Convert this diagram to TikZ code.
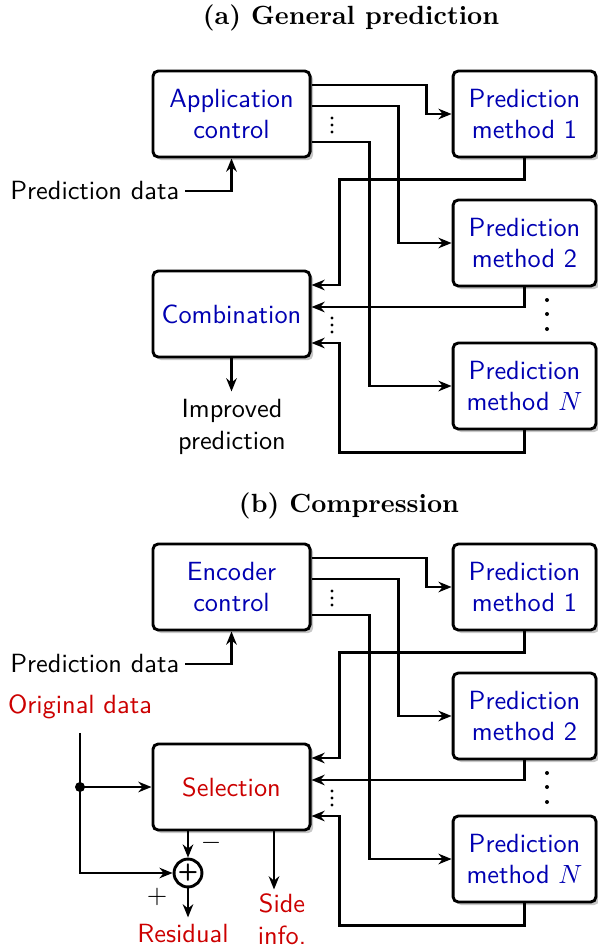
\documentclass[tikz,border=0pt]{standalone}
\usetikzlibrary{shadows,calc,arrows.meta}
\definecolor{nodeblue}{rgb}{0,0,0.7}
\definecolor{nodered}{rgb}{0.8,0,0}
\begin{document}
\begin{tikzpicture}[x=0.38pt,y=-0.38pt, font=\sffamily,
  box/.style={draw, line width=1.1pt, rounded corners=2pt, fill=white, align=center,
    minimum height=32.7pt, text=nodeblue, inner sep=2pt,
    drop shadow={shadow xshift=1.2pt, shadow yshift=-1.2pt, fill=black!22, opacity=1}},
  lbox/.style={box, minimum width=59.7pt},
  rbox/.style={box, minimum width=54.3pt},
  conn/.style={line width=0.95pt},
  arr/.style={conn, -{Stealth[length=5pt,width=4pt,inset=1.6pt]}},
  ttl/.style={font=\rmfamily\bfseries},
  lbl/.style={inner sep=2pt},
  dotmark/.style={fill=black}]
\useasboundingbox (0,0) rectangle (597,948);

% ---------- (a) ----------
\node[ttl] (ta) at (351,18) {(a) General prediction};
\node[lbox] (app) at (231.5,114) {Application\\control};
\node[rbox] (m1) at (524.5,114) {Prediction\\method 1};
\node[rbox] (m2) at (524.5,243) {Prediction\\method 2};
\node[rbox] (mN) at (524.5,386) {Prediction\\method $N$};
\node[lbox] (comb) at (231.5,314) {Combination};
\node[lbl, anchor=east] (pd) at (185,191) {Prediction data};
\node[lbl, align=center] (imp) at (232,427) {Improved\\prediction};

\draw[arr] (pd.east) -| (app.south);
\draw[arr] ($(app.east)+(0,-29)$) -- ++(115,0) |- (m1.west);
\draw[arr] ($(app.east)+(0,-8)$) -- ++(87,0) |- (m2.west);
\draw[arr] ($(app.east)+(0,28)$) -- ++(58,0) |- (mN.west);
\draw[arr] (m1.south) -- ++(0,21) -- ++(-185,0) |- ($(comb.east)+(0,-29)$);
\draw[arr] (m2.south) |- ($(comb.east)+(0,-7)$);
\draw[arr] (mN.south) -- ++(0,22) -- ++(-185,0) |- ($(comb.east)+(0,29)$);
\draw[arr] (comb.south) -- ++(0,33);

\foreach \yy in {118,125,132} \fill[dotmark] (332,\yy) circle (1.6);
\foreach \yy in {318,325,332} \fill[dotmark] (332,\yy) circle (1.6);
\foreach \yy in {300,314,329} \fill[dotmark] (547,\yy) circle (2);

% ---------- (b) ----------
\node[ttl] (tb) at (349,506) {(b) Compression};
\node[lbox] (enc) at (231.5,587) {Encoder\\control};
\node[rbox] (m1b) at (524.5,587) {Prediction\\method 1};
\node[rbox] (m2b) at (524.5,716) {Prediction\\method 2};
\node[rbox] (mNb) at (524.5,859) {Prediction\\method $N$};
\node[lbox, text=nodered] (sel) at (231.5,787) {Selection};
\node[lbl, anchor=east] (pdb) at (185,664) {Prediction data};
\node[lbl, text=nodered] (orig) at (80,707) {Original data};
\node[circle, draw, line width=1.1pt, minimum size=10.6pt, inner sep=0pt, fill=white] (plus) at (188,873) {\bfseries\small +};
\node[lbl] (minus) at (211,843) {$-$};
\node[lbl] (pl) at (157,897) {$+$};
\node[lbl, text=nodered] (res) at (183,934) {Residual};
\node[lbl, text=nodered, align=center] (side) at (282,919) {Side\\info.};

\draw[arr] (pdb.east) -| (enc.south);
\draw[arr] ($(enc.east)+(0,-29)$) -- ++(115,0) |- (m1b.west);
\draw[arr] ($(enc.east)+(0,-8)$) -- ++(87,0) |- (m2b.west);
\draw[arr] ($(enc.east)+(0,28)$) -- ++(58,0) |- (mNb.west);
\draw[arr] (m1b.south) -- ++(0,21) -- ++(-185,0) |- ($(sel.east)+(0,-29)$);
\draw[arr] (m2b.south) |- ($(sel.east)+(0,-7)$);
\draw[arr] (mNb.south) -- ++(0,22) -- ++(-185,0) |- ($(sel.east)+(0,29)$);

\coordinate (o0) at ($(orig.south)+(0,8)$);
\coordinate (j) at (o0 |- sel.west);
\draw[arr] (o0) |- (plus.west);
\draw[arr] (j) -- (sel.west);
\fill (j) circle (5);
\draw[arr] ($(sel.south)+(-43.5,0)$) -- (plus.north);
\draw[arr] (plus.south) -- ++(0,29);
\draw[arr] ($(sel.south)+(42.5,0)$) -- ++(0,58);

\foreach \yy in {591,598,605} \fill[dotmark] (332,\yy) circle (1.6);
\foreach \yy in {791,798,805} \fill[dotmark] (332,\yy) circle (1.6);
\foreach \yy in {773,787,802} \fill[dotmark] (547,\yy) circle (2);
\end{tikzpicture}
\end{document}
